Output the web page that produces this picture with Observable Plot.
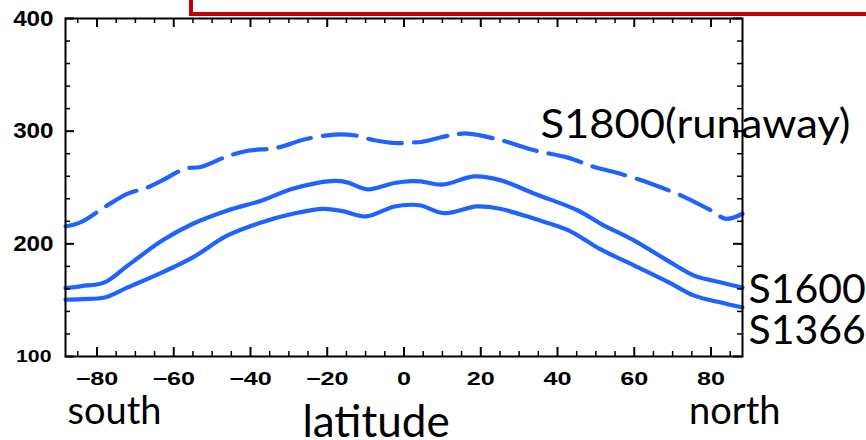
<!DOCTYPE html>
<html>
<head>
<meta charset="utf-8">
<script src="https://cdn.jsdelivr.net/npm/d3@7"></script>
<script src="https://cdn.jsdelivr.net/npm/@observablehq/plot@0.6"></script>
<style>
  html, body { margin: 0; padding: 0; background: #fff; }
  #wrap { position: relative; width: 866px; height: 440px; overflow: hidden; }
  #wrap svg { position: absolute; left: 0; top: 0; }
  #redbox { position: absolute; left: 189px; top: -20px; width: 720px; height: 36px;
            box-sizing: border-box; border: 4px solid #c00000; }
</style>
</head>
<body>
<div id="wrap"></div>
<script>
// ---- data ----
const latS1366 = [-88.2, -84, -78, -72, -63, -55, -46, -37, -29, -21, -16, -10, -2.5, 2, 4.4, 10.5, 19, 25, 34, 43, 51, 60, 69, 75.6, 81.7, 88.2];
const tS1366   = [150.4, 151, 152.4, 161.3, 174.7, 188, 207.4, 219.2, 226.7, 231.1, 229, 224.3, 233.2, 234.7, 234, 227.2, 233.2, 231.1, 222.2, 211.8, 195.5, 180.7, 165.8, 154, 148.6, 143.5];

const latS1600 = [-88.2, -84, -78, -72, -63, -55, -46, -37, -29, -19, -15, -9.5, -2.5, 2, 4.4, 10, 18.3, 25.3, 34, 45.3, 51.3, 60, 68.7, 75.6, 81.7, 88.2];
const tS1600   = [160.8, 162.5, 165.8, 180.7, 202.9, 217.8, 229.6, 238.5, 248.9, 255.7, 254.8, 248.3, 254, 255.7, 255.4, 252.5, 259.9, 256.3, 244.5, 229.6, 217.8, 202.9, 185.1, 171.8, 166.4, 161.3];

const latS1800 = [-88.2, -84.2, -78, -72, -67, -63, -57, -53, -46, -41, -33, -26, -18, -13, -7.7, -2.5, 2, 4.4, 12.2, 16.6, 25.3, 34, 42.7, 49.6, 55.7, 64.4, 73.1, 80, 83.9, 88.2];
const tS1800   = [215.4, 219.2, 232.6, 244.5, 249.8, 256.3, 266.7, 268.2, 277.7, 282.4, 285.4, 292.6, 297, 296.4, 291.9, 289.5, 289.9, 290.4, 296.4, 297.9, 291.9, 283, 276.5, 268.2, 262.8, 253.4, 241.5, 229.6, 222.2, 226.7];

const seriesNames = ["S1366", "S1600", "S1800(runaway)"];
const xTicks = [-80, -60, -40, -20, 0, 20, 40, 60, 80];
const xMinorTicks = [-85, -75, -70, -65, -55, -50, -45, -35, -30, -25, -15, -10, -5, 5, 10, 15, 25, 30, 35, 45, 50, 55, 65, 70, 75, 85];
const yTicks = [100, 200, 300, 400];
const yMinorTicks = [120, 140, 160, 180, 220, 240, 260, 280, 320, 340, 360, 380];
const xDomain = [-88.2, 88.2];
const yDomain = [100, 400];
const sideLabels = ["south", "north"];
const xTitle = "latitude";

// ---- layout ----
const W = 866, H = 440, mL = 65, mR = 124, mT = 18, mB = 84;
const plotH = H - mT - mB, plotW = W - mL - mR;
const BLUE = "#1f63ff";
const MAJ = 9, MIN = 5;

const rows = (lat, t) => lat.map((x, i) => ({lat: x, t: t[i]}));
const d1366 = rows(latS1366, tS1366);
const d1600 = rows(latS1600, tS1600);
const d1800 = rows(latS1800, tS1800);

const fmt = d => d < 0 ? "\u2212" + Math.abs(d) : String(d);
const tickFont = "'Liberation Sans', Arial, sans-serif";
const labFont = "Lato, 'Open Sans', sans-serif";

const chart = Plot.plot({
  width: W, height: H,
  marginLeft: mL, marginRight: mR, marginTop: mT, marginBottom: mB,
  x: {domain: xDomain},
  y: {domain: yDomain},
  style: {background: "transparent", overflow: "visible"},
  marks: [
    Plot.line(d1366, {x: "lat", y: "t", stroke: BLUE, strokeWidth: 4.2, curve: "catmull-rom"}),
    Plot.line(d1600, {x: "lat", y: "t", stroke: BLUE, strokeWidth: 4.2, curve: "catmull-rom"}),
    Plot.line(d1800, {x: "lat", y: "t", stroke: BLUE, strokeWidth: 4.2, curve: "catmull-rom", strokeDasharray: "34,12"}),
    // inward ticks on all four sides
    Plot.ruleX(xTicks, {x: d => d, insetBottom: plotH - MAJ, stroke: "black", strokeWidth: 2}),
    Plot.ruleX(xTicks, {x: d => d, insetTop: plotH - MAJ, stroke: "black", strokeWidth: 2}),
    Plot.ruleX(xMinorTicks, {x: d => d, insetBottom: plotH - MIN, stroke: "black", strokeWidth: 1.5}),
    Plot.ruleX(xMinorTicks, {x: d => d, insetTop: plotH - MIN, stroke: "black", strokeWidth: 1.5}),
    Plot.ruleY(yTicks, {y: d => d, insetRight: plotW - MAJ, stroke: "black", strokeWidth: 2}),
    Plot.ruleY(yTicks, {y: d => d, insetLeft: plotW - MAJ, stroke: "black", strokeWidth: 2}),
    Plot.ruleY(yMinorTicks, {y: d => d, insetRight: plotW - MIN, stroke: "black", strokeWidth: 1.5}),
    Plot.ruleY(yMinorTicks, {y: d => d, insetLeft: plotW - MIN, stroke: "black", strokeWidth: 1.5}),
    Plot.frame({stroke: "black", strokeWidth: 2}),
    Plot.axisX({ticks: xTicks, tickFormat: fmt, tickSize: 0, tickPadding: 16, label: null,
      fontSize: 18, fontWeight: "bold", fontFamily: tickFont, fill: "black"}),
    Plot.axisY({ticks: yTicks.filter(d => d !== 100), tickFormat: fmt, tickSize: 0, tickPadding: 12, label: null,
      fontSize: 22, fontWeight: "bold", fontFamily: tickFont, fill: "black"}),
    Plot.axisY({ticks: yTicks.filter(d => d === 100), tickFormat: fmt, tickSize: 0, tickPadding: 14, label: null,
      fontSize: 17, fontWeight: "bold", fontFamily: tickFont, fill: "black"}),
    // series labels
    Plot.text([seriesNames[2]], {frameAnchor: "top-right", textAnchor: "start", lineAnchor: "bottom",
      dx: -202, dy: 119, fontSize: 41, fontFamily: labFont, fill: "black"}),
    Plot.text([seriesNames[1]], {frameAnchor: "bottom-right", textAnchor: "start", lineAnchor: "bottom",
      dx: 6, dy: -54, fontSize: 41, fontFamily: labFont, fill: "black"}),
    Plot.text([seriesNames[0]], {frameAnchor: "bottom-right", textAnchor: "start", lineAnchor: "bottom",
      dx: 6, dy: -13, fontSize: 41, fontFamily: labFont, fill: "black"}),
    // axis annotations
    Plot.text([sideLabels[0]], {frameAnchor: "bottom-left", textAnchor: "start", lineAnchor: "bottom",
      dx: 2, dy: 67, fontSize: 38, fontFamily: labFont, fill: "black"}),
    Plot.text([sideLabels[1]], {frameAnchor: "bottom-right", textAnchor: "end", lineAnchor: "bottom",
      dx: 38, dy: 67, fontSize: 38, fontFamily: labFont, fill: "black"}),
    Plot.text([xTitle], {frameAnchor: "bottom", textAnchor: "middle", lineAnchor: "bottom",
      dx: -28, dy: 80, fontSize: 44, fontFamily: labFont, fill: "black"})
  ]
});

// stretch the tick labels horizontally like the reference
chart.querySelectorAll('g[aria-label="x-axis tick label"] text').forEach(t => {
  t.setAttribute("transform", (t.getAttribute("transform") || "") + " scale(1.4,1)");
});
chart.querySelectorAll('g[aria-label="y-axis tick label"] text').forEach(t => {
  const small = t.textContent === "100";
  t.setAttribute("transform", (t.getAttribute("transform") || "") + (small ? " scale(1.25,1)" : " scale(1.1,1)"));
});
// widen the runaway label to the reference's width
chart.querySelectorAll('g[aria-label="text"] text').forEach(t => {
  if (t.textContent === seriesNames[2]) {
    t.setAttribute("textLength", 310);
    t.setAttribute("lengthAdjust", "spacingAndGlyphs");
  }
});

const wrap = document.getElementById("wrap");
wrap.appendChild(chart);
const box = document.createElement("div");
box.id = "redbox";
wrap.appendChild(box);
</script>
</body>
</html>
